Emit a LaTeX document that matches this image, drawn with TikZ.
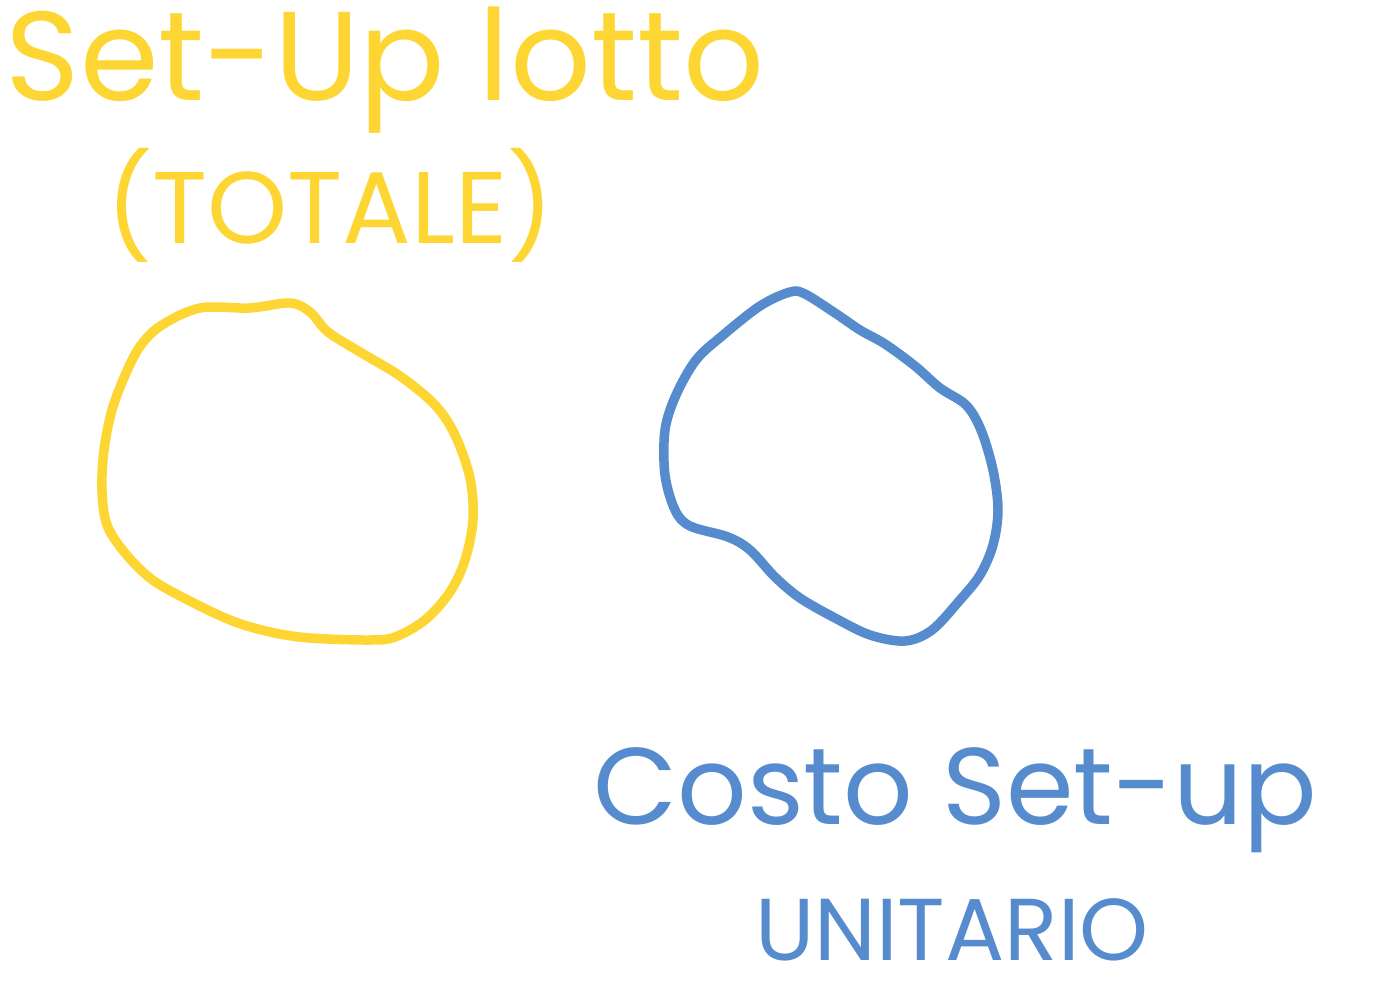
\documentclass[tikz,border=0pt]{standalone}
\usepackage{fontspec}
\setmainfont{Poppins}
\definecolor{penyellow}{RGB}{253,214,51}
\definecolor{penblue}{RGB}{86,140,206}
\begin{document}
\begin{tikzpicture}[x=0.02cm, y=-0.02cm,
  blob/.style={line width=5.4pt, line cap=round, line join=round},
  handtext/.style={inner sep=0pt, anchor=center}]
  \useasboundingbox (0,0) rectangle (1373,1000);
  % yellow side: total set-up cost
  \node[handtext, text=penyellow, font=\fontsize{72}{76}\selectfont] (lotto) at (385,70) {Set-Up lotto};
  \node[handtext, text=penyellow, font=\fontsize{58}{62}\selectfont] (totale) at (330,205) {(TOTALE)};
  \draw[blob, penyellow] plot[smooth cycle, tension=0.55] coordinates {
    (250,308) (290,303) (310,312) (328,332) (360,352) (400,376) (435,405)
    (455,435) (470,478) (473,520) (465,560) (450,592) (425,620) (395,637)
    (370,640) (310,638) (270,632) (230,620) (180,596) (150,578) (125,553)
    (107,525) (102,490) (104,450) (112,410) (126,373) (141,345) (162,325)
    (200,308)};
  % blue side: unit set-up cost
  \draw[blob, penblue] plot[smooth cycle, tension=0.55] coordinates {
    (805,294) (835,313) (860,330) (885,344) (915,366) (940,388) (966,405)
    (981,430) (993,470) (998,510) (993,545) (980,575) (960,600) (932,630)
    (905,641) (870,635) (835,618) (800,598) (775,577) (750,550) (728,537)
    (690,526) (675,510) (665,475) (665,430) (676,395) (696,360) (722,336)
    (760,306) (790,292)};
  \node[handtext, text=penblue, font=\fontsize{62}{66}\selectfont] (costo) at (955,800) {Costo Set-up};
  \node[handtext, text=penblue, font=\fontsize{50}{54}\selectfont] (unitario) at (952,930) {UNITARIO};
\end{tikzpicture}
\end{document}
